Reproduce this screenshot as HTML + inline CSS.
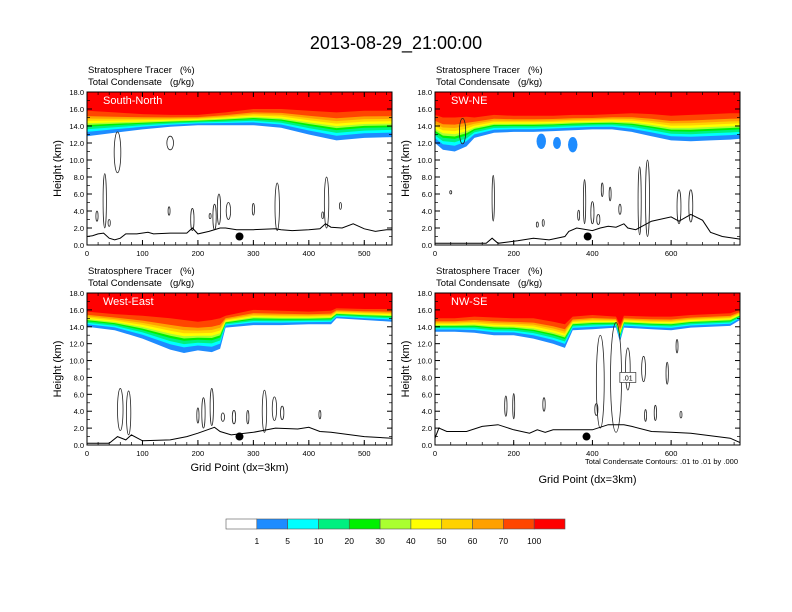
<!DOCTYPE html>
<html><head><meta charset="utf-8"><style>
body{margin:0;background:#fff;}
svg{display:block;font-family:"Liberation Sans",sans-serif;}
text{white-space:pre;}
</style></head><body>
<svg id="chart" width="792" height="612" viewBox="0 0 792 612">
<rect width="792" height="612" fill="#fff"/>
<text x="396" y="49" font-size="18" text-anchor="middle">2013-08-29_21:00:00</text>
</svg>
<script>
// ---- data ----
const levels = [1,5,10,20,30,40,50,60,70,100];
const bandColors = ["#1e8cff","#00ffff","#00f080","#00f000","#aaff30","#ffff00","#ffd200","#ffa000","#ff4600","#ff0000"];
const bandFractions = [0,0.17,0.27,0.37,0.44,0.51,0.6,0.69,0.79,1.0];
const yTicks = [0,2,4,6,8,10,12,14,16,18];
const panelNames = ["South-North","SW-NE","West-East","NW-SE"];
const panelXMax = [550,775,550,775];
const xTicks1 = [0,100,200,300,400,500];
const xTicks2 = [0,200,400,600];

const p1Grid = [0,50,100,150,200,250,300,350,400,450,500,550];
const p1Base = [12.8,13.2,13.6,13.9,14.1,14.1,14.1,13.8,13.0,12.3,12.6,12.7];
const p1Top  = [15.8,15.6,15.4,15.3,15.3,15.6,16.0,16.0,15.8,15.6,15.8,15.8];
const p2Grid = [0,20,50,80,100,150,200,250,300,350,400,450,500,550,600,650,700,750,775];
const p2Base = [12.0,11.2,11.0,11.6,12.6,13.2,13.3,13.3,13.4,13.5,13.6,13.6,13.3,12.8,12.3,12.2,12.3,12.4,12.5];
const p2Top  = [15.3,15.0,15.0,15.1,15.0,15.3,15.2,15.2,15.2,15.3,15.3,15.4,15.5,15.4,15.2,15.3,15.4,15.5,15.5];
const p3Grid = [0,50,100,150,175,200,225,240,250,300,350,400,440,450,500,550];
const p3Base = [14.0,13.6,12.6,11.3,10.9,11.2,11.0,11.4,13.9,14.2,14.2,14.3,14.3,15.0,14.8,14.6];
const p3Top  = [15.8,15.5,15.3,15.0,14.8,14.6,14.8,15.0,15.3,16.0,15.9,15.8,15.9,16.2,16.1,16.1];
const p4Grid = [0,50,100,150,200,250,300,330,350,400,460,470,480,550,600,650,700,750,775];
const p4Base = [13.4,13.4,13.3,13.0,13.0,12.6,12.0,11.5,13.6,13.7,13.9,12.2,13.9,13.7,13.6,13.9,14.0,14.1,14.8];
const p4Top  = [15.0,15.0,15.2,15.1,15.0,15.0,14.6,14.3,15.2,15.4,15.2,14.2,15.3,15.2,15.2,15.4,15.5,15.6,16.0];

const t1Grid=[0,10,20,30,40,50,60,70,90,110,120,150,180,190,200,220,240,250,270,300,340,350,370,400,420,430,440,460,480,500,520,540,550];
const t1Km  =[1.0,1.1,1.3,1.4,0.8,0.6,0.8,1.3,1.3,1.5,1.3,1.4,1.4,2.0,1.3,1.6,2.0,2.0,1.8,1.8,1.9,1.8,1.7,1.8,1.9,2.5,2.1,2.0,2.5,1.9,1.6,1.8,1.8];
const t2Grid=[0,130,145,160,210,250,290,330,340,360,400,420,440,460,480,490,510,550,600,620,650,680,700,730,775];
const t2Km  =[0.2,0.2,0.8,0.2,0.5,0.8,0.6,1.0,1.6,2.0,1.7,2.0,2.2,2.1,2.5,2.0,1.8,2.8,3.3,2.8,3.6,2.9,1.5,1.0,0.7];
const t3Grid=[0,40,55,70,80,100,150,180,200,230,240,260,300,340,380,400,420,440,500,550];
const t3Km  =[0.2,0.2,1.0,0.6,1.2,0.5,0.6,1.0,1.4,2.1,1.6,1.2,1.5,2.0,1.9,2.1,1.6,1.5,1.0,0.8];
const t4Grid=[0,10,30,80,120,160,200,240,260,280,300,360,400,440,480,500,550,600,650,700,750,775];
const t4Km  =[0.8,2.0,1.6,1.6,2.2,2.4,1.8,1.4,1.8,1.5,1.8,1.8,1.8,2.4,2.4,2.2,1.6,1.5,1.4,1.1,0.8,0.3];

// condensate contours: [grid, centerKm, halfWidthGrid, halfHeightKm]
const c1=[[55,10.9,6,2.4],[32,5.2,3,3.2],[18,3.4,2,0.6],[40,2.6,2,0.4],[150,12.0,6,0.8],[148,4.0,1.5,0.5],[190,3.0,3,1.3],[230,3.3,3,1.5],[238,4.2,3,1.8],[255,4.0,4,1.0],[300,4.2,2,0.7],[343,4.5,4,2.8],[432,5.0,4,3.0],[457,4.6,1.5,0.4],[222,3.4,1,0.3],[425,3.5,1,0.4]];
const c2=[[70,13.4,8,1.5],[148,5.5,3,2.7],[40,6.2,1,0.2],[260,2.4,2,0.3],[275,2.6,2,0.4],[380,5.1,3,2.6],[365,3.5,2,0.6],[400,3.8,4,1.3],[415,3.0,4,0.6],[425,6.5,2,0.8],[445,6.0,1.5,0.8],[520,5.2,4,4.0],[540,5.5,5,4.5],[620,4.5,5,2.0],[650,4.6,5,1.9],[470,4.2,3,0.6]];
const c3=[[60,4.2,5,2.5],[75,3.8,4,2.6],[210,3.8,3,1.8],[225,4.5,3,2.2],[200,3.5,2,0.9],[245,3.3,3,0.5],[265,3.3,3,0.8],[290,3.3,2,0.8],[320,4.0,4,2.5],[338,4.3,4,1.4],[352,3.8,3,0.8],[420,3.6,1.5,0.5]];
const c4=[[420,7.5,10,5.5],[460,8.0,14,6.5],[490,9.0,6,2.5],[530,9.0,5,1.5],[615,11.7,2,0.8],[590,8.5,3,1.3],[180,4.6,3,1.2],[200,4.6,2,1.5],[277,4.8,3,0.8],[410,4.2,4,0.7],[535,3.5,2,0.7],[560,3.8,3,0.9],[625,3.6,1,0.4]];
const p2Blobs=[[270,12.2,12,0.9],[310,12.0,10,0.7],[350,11.8,12,0.9]];
const dotGrid=[275,388,275,385];

const NS="http://www.w3.org/2000/svg";
const svg=document.getElementById('chart');
function mk(tag,attrs,parent){const e=document.createElementNS(NS,tag);for(const k in attrs)e.setAttribute(k,attrs[k]);(parent||svg).appendChild(e);return e;}

const panels=[
 {x0:87,y0:92,w:305,h:153,grid:p1Grid,base:p1Base,top:p1Top,tg:t1Grid,tk:t1Km,c:c1,xt:xTicks1,xlabel:false},
 {x0:435,y0:92,w:305,h:153,grid:p2Grid,base:p2Base,top:p2Top,tg:t2Grid,tk:t2Km,c:c2,xt:xTicks2,xlabel:false},
 {x0:87,y0:293,w:305,h:152,grid:p3Grid,base:p3Base,top:p3Top,tg:t3Grid,tk:t3Km,c:c3,xt:xTicks1,xlabel:true},
 {x0:435,y0:293,w:305,h:152,grid:p4Grid,base:p4Base,top:p4Top,tg:t4Grid,tk:t4Km,c:c4,xt:xTicks2,xlabel:true}
];

panels.forEach((p,i)=>{
 const xmax=panelXMax[i];
 const X=g=>p.x0+g/xmax*p.w;
 const Y=km=>p.y0+p.h-km/18*p.h;
 const g=mk('g',{});
 
 
 const cid='clip'+i;
 const cp=mk('clipPath',{id:cid},g);
 mk('rect',{x:p.x0,y:p.y0,width:p.w,height:p.h},cp);
 const plot=mk('g',{'clip-path':'url(#'+cid+')'},g);
 for(let b=0;b<levels.length;b++){
  let d='M'+X(p.grid[0])+','+Y(18.5);
  p.grid.forEach((gg,k)=>{const km=p.base[k]+bandFractions[b]*(p.top[k]-p.base[k]);d+=' L'+X(gg).toFixed(1)+','+Y(km).toFixed(1);});
  d+=' L'+X(p.grid[p.grid.length-1])+','+Y(18.5)+'Z';
  const e=mk('path',{d:d,fill:bandColors[b]},plot);
  
  
 }
 if(i===1){p2Blobs.forEach(bl=>{const e=mk('ellipse',{cx:X(bl[0]),cy:Y(bl[1]),rx:bl[2]/xmax*p.w,ry:bl[3]/18*p.h,fill:bandColors[0]},plot);
  
  });}
 p.c.forEach(c=>{const e=mk('ellipse',{cx:X(c[0]),cy:Y(c[1]),rx:Math.max(1,c[2]/xmax*p.w),ry:c[3]/18*p.h,fill:'none',stroke:'#222','stroke-width':0.8},plot);
  
  });
 let d='';p.tg.forEach((gg,k)=>{d+=(k?' L':'M')+X(gg).toFixed(1)+','+Y(p.tk[k]).toFixed(1);});
 const tl=mk('path',{d:d,fill:'none',stroke:'#000','stroke-width':1},plot);
 
 
 const dot=mk('circle',{cx:X(dotGrid[i]),cy:Y(1.0),r:4,fill:'#000'},plot);
 
 
 if(i===3){const lb=mk('rect',{x:X(490)-8,y:Y(8.0)-5,width:16,height:10,fill:'#fff',stroke:'#333','stroke-width':0.7},plot);
  
  const lt=mk('text',{x:X(490),y:Y(8.0)+3,'font-size':7,'text-anchor':'middle'},plot);lt.textContent='.01';
  }
 const fr=mk('rect',{x:p.x0,y:p.y0,width:p.w,height:p.h,fill:'none',stroke:'#000','stroke-width':1},g);
 
 const pn=mk('text',{x:p.x0+16,y:p.y0+12,'font-size':11,fill:'#fff'},g);pn.textContent=panelNames[i];
 
 const h1=mk('text',{x:p.x0+1,y:p.y0-19,'font-size':9.5},g);h1.textContent='Stratosphere Tracer   (%)';
 
 const h2=mk('text',{x:p.x0+1,y:p.y0-7,'font-size':9.5},g);h2.textContent='Total Condensate   (g/kg)';
 
 yTicks.forEach(v=>{const y=Y(v);
  mk('line',{x1:p.x0,x2:p.x0+5,y1:y,y2:y,stroke:'#000','stroke-width':1},g);
  mk('line',{x1:p.x0+p.w,x2:p.x0+p.w-5,y1:y,y2:y,stroke:'#000','stroke-width':1},g);
  const t=mk('text',{x:p.x0-3,y:y+3,'font-size':7.5,'text-anchor':'end'},g);t.textContent=v.toFixed(1);
  });
 for(let v=1;v<18;v+=2){const y=Y(v);mk('line',{x1:p.x0,x2:p.x0+3,y1:y,y2:y,stroke:'#000','stroke-width':0.7},g);mk('line',{x1:p.x0+p.w,x2:p.x0+p.w-3,y1:y,y2:y,stroke:'#000','stroke-width':0.7},g);}
 p.xt.forEach(v=>{const x=X(v);
  mk('line',{x1:x,x2:x,y1:p.y0+p.h,y2:p.y0+p.h-5,stroke:'#000'},g);
  mk('line',{x1:x,x2:x,y1:p.y0,y2:p.y0+5,stroke:'#000'},g);
  const t=mk('text',{x:x,y:p.y0+p.h+11,'font-size':7.5,'text-anchor':'middle'},g);t.textContent=v;
  });
 const minor=p.xt[1]-p.xt[0];
 for(let v=minor/5;v<xmax;v+=minor/5){const x=X(v);mk('line',{x1:x,x2:x,y1:p.y0+p.h,y2:p.y0+p.h-3,stroke:'#000','stroke-width':0.7},g);mk('line',{x1:x,x2:x,y1:p.y0,y2:p.y0+3,stroke:'#000','stroke-width':0.7},g);}
 const yt=mk('text',{x:0,y:0,'font-size':11,'text-anchor':'middle',transform:'translate('+(p.x0-26)+','+(p.y0+p.h/2)+') rotate(-90)'},g);yt.textContent='Height (km)';
 
 if(p.xlabel){const xl=mk('text',{x:p.x0+p.w/2,y:i===3?483:471,'font-size':11,'text-anchor':'middle'},g);xl.textContent='Grid Point (dx=3km)';
  }
});
const fn=mk('text',{x:738,y:464,'font-size':7.5,'text-anchor':'end'});fn.textContent='Total Condensate Contours: .01 to .01 by .000';


const cbColors=["#ffffff"].concat(bandColors);
const cb=mk('g',{});


const cbx=226,cbw=339/11;
cbColors.forEach((c,k)=>{const r=mk('rect',{x:cbx+k*cbw,y:519,width:cbw,height:10,fill:c,stroke:'#555','stroke-width':0.6},cb);
 });
levels.forEach((v,k)=>{const t=mk('text',{x:cbx+(k+1)*cbw,y:544,'font-size':8.5,'text-anchor':'middle'},cb);t.textContent=v;
 });
</script>
</body></html>
